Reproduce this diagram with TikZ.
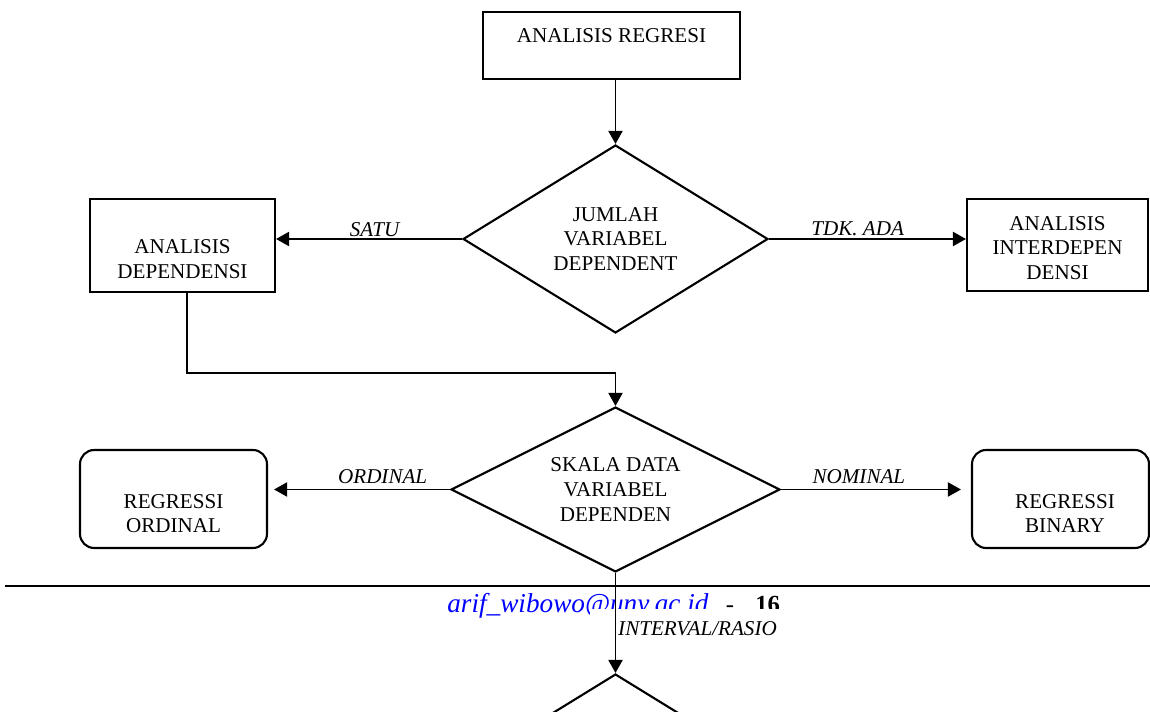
\documentclass[tikz,border=0pt]{standalone}
\usepackage{fontspec}
\setmainfont{Liberation Serif}
\usetikzlibrary{shapes.geometric,arrows.meta,positioning,calc}
\tikzset{
  procbox/.style={rectangle, draw=black, line width=1.2pt, fill=white,
                  inner sep=0pt},
  resbox/.style={rectangle, rounded corners=8pt, draw=black, line width=1.2pt,
                 fill=white, inner sep=0pt},
  decision/.style={diamond, draw=black, line width=1.2pt, fill=white,
                   inner sep=0pt, align=center},
  boxtext/.style={align=center, inner sep=0pt},
  flow/.style={-{Triangle[length=2.6mm, width=2.8mm]}, line width=1.1pt, black},
  branch/.style={font=\fontsize{12}{14}\selectfont\itshape, inner sep=1pt},
}

\begin{document}
\begin{tikzpicture}[x=0.02cm, y=-0.02cm, font=\fontsize{12}{14}\selectfont]
\useasboundingbox (0,0) rectangle (1150,712);
\clip (0,0) rectangle (1150,712);

% ── Top: regression analysis and first decision ─────────────
\node[procbox, minimum width=5.14cm, minimum height=1.34cm] (rg) at (611.5,45.5) {};
\node[boxtext] (rgtxt) at ([yshift=0.19cm]rg.center) {ANALISIS REGRESI};

\node[decision, aspect=1.62, minimum width=6.1cm, minimum height=3.76cm] (jv)
      at (615.5,239) {JUMLAH\\VARIABEL\\DEPENDENT};

\node[procbox, minimum width=3.7cm, minimum height=1.86cm] (ad) at (182.5,245.5) {};
\node[boxtext] (adtxt) at ([yshift=-0.27cm]ad.center) {ANALISIS\\DEPENDENSI};

\node[procbox, minimum width=3.62cm, minimum height=1.84cm] (ai) at (1057.5,245) {};
\node[boxtext] (aitxt) at ([yshift=-0.06cm]ai.center) {ANALISIS\\INTERDEPEN\\DENSI};

\draw[flow] (rg.south -| jv.north) -- (jv.north);
\draw[flow] (jv.west) -- (jv.west -| ad.east)
      node[branch, pos=0.47, above] {SATU};
\draw[flow] (jv.east) -- (jv.east -| ai.west)
      node[branch, pos=0.45, above] {TDK. ADA};

% ── Middle: data scale decision ──────────────────────────────
\node[decision, aspect=2, minimum width=6.58cm, minimum height=3.3cm] (sk)
      at (615.5,489.5) {SKALA DATA\\VARIABEL\\DEPENDEN};

\node[resbox, minimum width=3.74cm, minimum height=1.96cm] (ro) at (173.5,499) {};
\node[boxtext] (rotxt) at ([yshift=-0.29cm]ro.center) {REGRESSI\\ORDINAL};

\node[resbox, minimum width=3.54cm, minimum height=1.96cm] (rb) at (1060.5,499) {};
\node[boxtext] (rbtxt) at ([xshift=0.09cm, yshift=-0.29cm]rb.center) {REGRESSI\\BINARY};

\draw[flow] ([xshift=0.09cm]ad.south) -- ++(0,80) -| (sk.north);
\draw[flow, shorten >=0.12cm] (sk.west) -- (sk.west -| ro.east)
      node[branch, pos=0.37, above, inner sep=3pt] {ORDINAL};
\draw[flow, shorten >=0.2cm] (sk.east) -- (sk.east -| rb.west)
      node[branch, pos=0.41, above, inner sep=3pt] {NOMINAL};

% ── Page footer ──────────────────────────────────────────────
\draw[line width=1.1pt] (5,586) -- (1150,586);
\node[font=\fontsize{15.5}{18}\selectfont\itshape, text=blue, anchor=base west,
      inner sep=0pt] (mail) at (447,613) {arif\_wibowo@uny.ac.id};
\node[font=\fontsize{14}{16}\selectfont, anchor=base, inner sep=0pt] (dash) at (730,613) {-};
\node[font=\fontsize{14}{16}\selectfont\bfseries, anchor=base west, inner sep=0pt]
      (pg) at (755,613) {16};
\fill[white] (590,609) rectangle (800,619);

% ── Bottom: next decision (cut off) ──────────────────────────
\node[decision, aspect=1.62, minimum width=6.1cm, minimum height=3.76cm] (nx)
      at (615.5,768) {};
\draw[flow] (sk.south) -- (nx.north)
      node[branch, pos=0.56, anchor=west] {INTERVAL/RASIO};

\end{tikzpicture}
\end{document}
